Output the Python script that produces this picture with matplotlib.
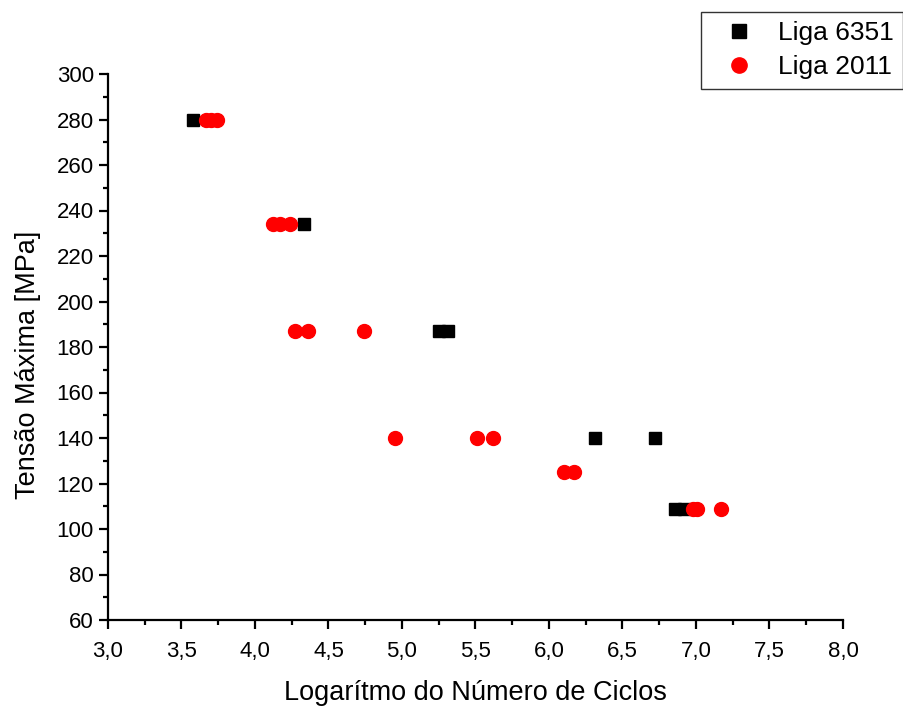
import matplotlib
matplotlib.use("Agg")
import matplotlib.pyplot as plt
from matplotlib.ticker import MultipleLocator, FuncFormatter

plt.rcParams['font.family'] = ['Liberation Sans', 'DejaVu Sans']

x_6351 = [3.58, 4.33, 5.25, 5.31, 6.31, 6.72, 6.86, 6.92]
y_6351 = [280, 234, 187, 187, 140, 140, 109, 109]

x_2011 = [3.67, 3.70, 3.74, 4.12, 4.17, 4.24, 4.27, 4.36, 4.74, 4.95, 5.51, 5.62,
          6.10, 6.17, 6.98, 7.01, 7.17]
y_2011 = [280, 280, 280, 234, 234, 234, 187, 187, 187, 140, 140, 140,
          125, 125, 109, 109, 109]

fig = plt.figure(figsize=(9.04, 7.06), dpi=100)
ax = fig.add_axes([108/904, 1 - 620/706, (843-108)/904, (620-74)/706])

ax.plot(x_6351, y_6351, 's', color='black', markersize=9, label='Liga 6351', linestyle='none')
ax.plot(x_2011, y_2011, 'o', color='red', markersize=10, label='Liga 2011', linestyle='none')

ax.set_xlim(3.0, 8.0)
ax.set_ylim(60, 300)
ax.xaxis.set_major_locator(MultipleLocator(0.5))
ax.xaxis.set_minor_locator(MultipleLocator(0.25))
ax.yaxis.set_major_locator(MultipleLocator(20))
ax.yaxis.set_minor_locator(MultipleLocator(10))
ax.xaxis.set_major_formatter(FuncFormatter(lambda v, p: f"{v:.1f}".replace('.', ',')))

for s in ['top', 'right']:
    ax.spines[s].set_visible(False)
for s in ['left', 'bottom']:
    ax.spines[s].set_linewidth(1.6)
ax.tick_params(which='major', direction='out', length=6.2, width=1.6, labelsize=16)
ax.tick_params(which='minor', direction='out', length=3.8, width=1.6)
ax.tick_params(axis='x', which='major', pad=9)
ax.tick_params(axis='y', which='major', pad=4)

ax.set_xlabel('Logarítmo do Número de Ciclos', fontsize=19.5, labelpad=13)
ax.set_ylabel('Tensão Máxima [MPa]', fontsize=19.5, labelpad=11)
ax.yaxis.label.set_y(0.467)

leg = fig.legend(loc='upper right', bbox_to_anchor=(903/904, 1 - 12/706), fontsize=19,
                 frameon=True, fancybox=False, edgecolor='black', handletextpad=0.38,
                 borderpad=0.35, labelspacing=0.38, handlelength=2.2, markerscale=1.1,
                 borderaxespad=0)
leg.get_frame().set_linewidth(1.0)

fig.savefig('out.png', dpi=100)
